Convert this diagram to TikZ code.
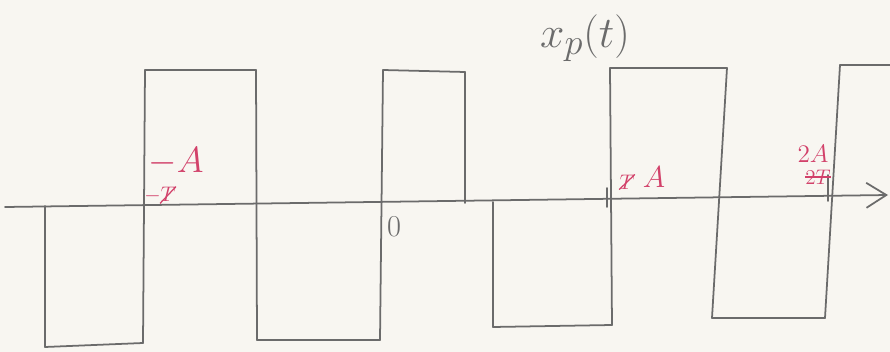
\documentclass[tikz,border=0pt]{standalone}
\usepackage{xcolor}
\usetikzlibrary{arrows.meta}
\definecolor{pencilgray}{HTML}{6B6B6B}
\definecolor{redpen}{HTML}{D2416A}
\definecolor{paper}{HTML}{F8F6F1}

\begin{document}
\begin{tikzpicture}[-,auto,
  point/.style={coordinate},
  pencil/.style={draw=pencilgray, line width=1pt, line cap=round, line join=round},
  redlabel/.style={text=redpen, inner sep=0pt},
  struck/.style={text=redpen, inner sep=0pt, font=\fontsize{13}{15}\selectfont}]
\path[use as bounding box, fill=paper] (0,-2.90) rectangle (17.8,4.14);
% axis
\node[point] (a0) at (0.10,0)  {};
\node[point] (a1) at (17.76,0.24)  {};
\draw[pencil, -{Straight Barb[length=4mm,width=5mm]}]   (a0) -- (a1);
% waveform corners
\node[point] (w0) at (0.90,0.02)  {};
\node[point] (w1) at (0.90,-2.80)  {};
\node[point] (w2) at (2.86,-2.72)  {};
\node[point] (w3) at (2.90,2.74)  {};
\node[point] (w4) at (5.12,2.74)  {};
\node[point] (w5) at (5.14,-2.66)  {};
\node[point] (w6) at (7.60,-2.66)  {};
\node[point] (w7) at (7.66,2.74)  {};
\node[point] (w8) at (9.30,2.70)  {};
\node[point] (w9) at (9.30,0.08)  {};
\node[point] (w10) at (9.86,0.10)  {};
\node[point] (w11) at (9.86,-2.40)  {};
\node[point] (w12) at (12.24,-2.36)  {};
\node[point] (w13) at (12.20,2.78)  {};
\node[point] (w14) at (14.54,2.78)  {};
\node[point] (w15) at (14.24,-2.22)  {};
\node[point] (w16) at (16.50,-2.22)  {};
\node[point] (w17) at (16.80,2.84)  {};
\node[point] (w18) at (17.80,2.84)  {};
\draw[pencil]   (w0) -- (w1);
\draw[pencil]   (w1) -- (w2);
\draw[pencil]   (w2) -- (w3);
\draw[pencil]   (w3) -- (w4);
\draw[pencil]   (w4) -- (w5);
\draw[pencil]   (w5) -- (w6);
\draw[pencil]   (w6) -- (w7);
\draw[pencil]   (w7) -- (w8);
\draw[pencil]   (w8) -- (w9);
\draw[pencil]   (w10) -- (w11);
\draw[pencil]   (w11) -- (w12);
\draw[pencil]   (w12) -- (w13);
\draw[pencil]   (w13) -- (w14);
\draw[pencil]   (w14) -- (w15);
\draw[pencil]   (w15) -- (w16);
\draw[pencil]   (w16) -- (w17);
\draw[pencil]   (w17) -- (w18);
% ticks
\node[point] (t0) at (12.14,0.38)  {};
\node[point] (t1) at (12.14,0.00)  {};
\node[point] (t2) at (16.56,0.64)  {};
\node[point] (t3) at (16.56,0.12)  {};
\draw[pencil]   (t0) -- (t1);
\draw[pencil]   (t2) -- (t3);
% labels
\node[text=pencilgray, font=\fontsize{28}{30}\selectfont] (title) at (11.70,3.38)  {$x_p(t)$};
\node[text=pencilgray, font=\fontsize{18}{20}\selectfont] (zero) at (7.88,-0.40)  {$0$};
\node[redlabel, font=\fontsize{20}{22}\selectfont] (mA) at (3.52,0.90)  {$-A$};
\node[redlabel, font=\fontsize{17}{19}\selectfont] (pA) at (13.08,0.60)  {$A$};
\node[redlabel, font=\fontsize{15}{17}\selectfont] (tA) at (16.26,1.06)  {$2A$};
% crossed out
\node[struck] (mT) at (3.20,0.24)  {$-T$};
\node[struck] (pT) at (12.54,0.50)  {$T$};
\node[struck] (tT) at (16.36,0.60)  {$2T$};
\draw[redpen, line width=0.7pt]   (mT.south) -- (mT.north east);
\draw[redpen, line width=0.7pt]   (pT.south west) -- (pT.north east);
\draw[redpen, line width=0.7pt]   (tT.west) -- (tT.east);
\end{tikzpicture}
\end{document}
